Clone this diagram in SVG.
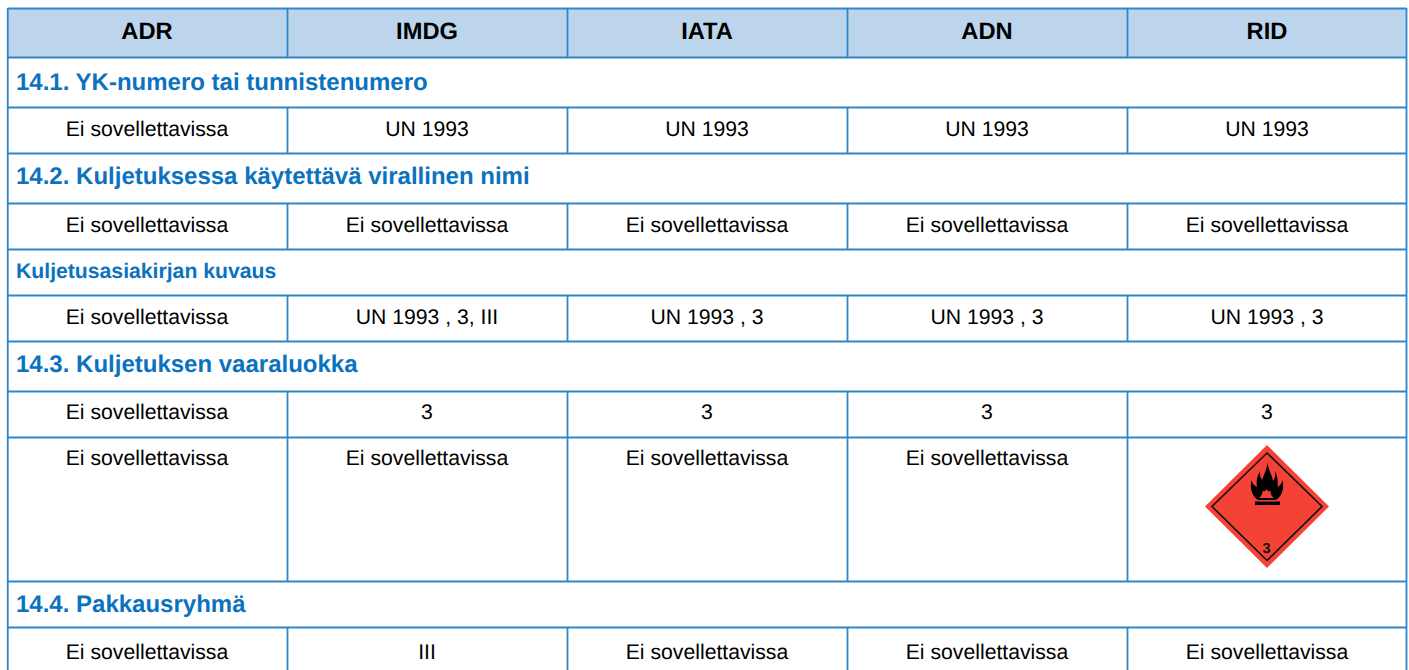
<svg xmlns="http://www.w3.org/2000/svg" width="1409" height="670" viewBox="0 0 1409 670">
<style>
text{font-family:"Liberation Sans",Arial,sans-serif;text-rendering:geometricPrecision}
.h{font-size:23.700px;font-weight:bold;fill:#000;text-anchor:middle}
.c{font-size:21.200px;fill:#000;text-anchor:middle}
.s{font-size:24px;font-weight:bold;fill:#0b72c0}
.t{font-size:21.200px;font-weight:bold;fill:#0b72c0}
.l{stroke:#2f86c8;stroke-width:1.800;fill:none}
</style>
<rect width="1409" height="670" fill="#fff"/>
<rect x="8" y="9" width="1398" height="48" fill="#bdd5ec"/>
<g id="grid" class="l">
<path d="M7.750 8.500H1406.500M7.750 57.500H1406.500M7.750 107.500H1406.500M7.750 153.500H1406.500M7.750 203.500H1406.500M7.750 249.500H1406.500M7.750 295.500H1406.500M7.750 341.500H1406.500M7.750 391.500H1406.500M7.750 437.500H1406.500M7.750 581.500H1406.500M7.750 627.500H1406.500"/>
<path d="M7.750 8V670M1406.500 8V670"/>
<path d="M287.500 8V57.500M567.500 8V57.500M847.500 8V57.500M1127.500 8V57.500"/>
<path d="M287.500 107.500V153.500M567.500 107.500V153.500M847.500 107.500V153.500M1127.500 107.500V153.500"/>
<path d="M287.500 203.500V249.500M567.500 203.500V249.500M847.500 203.500V249.500M1127.500 203.500V249.500"/>
<path d="M287.500 295.500V341.500M567.500 295.500V341.500M847.500 295.500V341.500M1127.500 295.500V341.500"/>
<path d="M287.500 391.500V581.500M567.500 391.500V581.500M847.500 391.500V581.500M1127.500 391.500V581.500"/>
<path d="M287.500 627.500V670M567.500 627.500V670M847.500 627.500V670M1127.500 627.500V670"/>
</g>
<g id="header">
<text class="h" x="147" y="39">ADR</text><text class="h" x="427" y="39">IMDG</text><text class="h" x="707" y="39">IATA</text><text class="h" x="987" y="39">ADN</text><text class="h" x="1267" y="39">RID</text>
</g>
<g id="section-14-1"><text class="s" x="16" y="90">14.1. YK-numero tai tunnistenumero</text></g>
<g id="row-1"><text class="c" x="147" y="136">Ei sovellettavissa</text><text class="c" x="427" y="136">UN 1993</text><text class="c" x="707" y="136">UN 1993</text><text class="c" x="987" y="136">UN 1993</text><text class="c" x="1267" y="136">UN 1993</text></g>
<g id="section-14-2"><text class="s" x="16" y="184">14.2. Kuljetuksessa käytettävä virallinen nimi</text></g>
<g id="row-2"><text class="c" x="147" y="232">Ei sovellettavissa</text><text class="c" x="427" y="232">Ei sovellettavissa</text><text class="c" x="707" y="232">Ei sovellettavissa</text><text class="c" x="987" y="232">Ei sovellettavissa</text><text class="c" x="1267" y="232">Ei sovellettavissa</text></g>
<g id="section-doc"><text class="t" x="16" y="278">Kuljetusasiakirjan kuvaus</text></g>
<g id="row-3"><text class="c" x="147" y="324">Ei sovellettavissa</text><text class="c" x="427" y="324">UN 1993 , 3, III</text><text class="c" x="707" y="324">UN 1993 , 3</text><text class="c" x="987" y="324">UN 1993 , 3</text><text class="c" x="1267" y="324">UN 1993 , 3</text></g>
<g id="section-14-3"><text class="s" x="16" y="372">14.3. Kuljetuksen vaaraluokka</text></g>
<g id="row-4"><text class="c" x="147" y="419">Ei sovellettavissa</text><text class="c" x="427" y="419">3</text><text class="c" x="707" y="419">3</text><text class="c" x="987" y="419">3</text><text class="c" x="1267" y="419">3</text></g>
<g id="row-5"><text class="c" x="147" y="465">Ei sovellettavissa</text><text class="c" x="427" y="465">Ei sovellettavissa</text><text class="c" x="707" y="465">Ei sovellettavissa</text><text class="c" x="987" y="465">Ei sovellettavissa</text></g>
<g id="hazard-label">
<polygon points="1267,445 1329,506.500 1267,568 1205,506.500" fill="#f44336"/>
<polygon points="1267,453 1322,506.500 1267,560.500 1212,506.500" fill="none" stroke="#111" stroke-width="1.600"/>
<path d="M1267.500 462C1268 470 1272 474 1273 481C1275 479 1275.500 476 1275 471C1278 477 1278 483 1277.500 487C1279.500 486 1281.500 484 1282.500 480C1284.500 488 1282 496 1276 500H1258C1252 496 1249.500 488 1251.500 480C1252.500 484 1255 486 1257 487C1256 482 1257 476 1260 471C1260 475 1260 477 1262 480C1264 474 1267 470 1267.500 462Z" fill="#000"/>
<path d="M1266.500 489C1267.500 491.500 1269 492 1270.500 490.500C1270.500 493 1270.500 495 1274 498H1259C1262.500 495 1262.500 493 1262.500 490.500C1264 492 1265.500 491.500 1266.500 489Z" fill="#f44336"/>
<rect x="1255" y="501.500" width="25" height="3.500" fill="#000"/>
<text x="1266.500" y="552.500" font-size="14.500" font-weight="bold" text-anchor="middle" fill="#111">3</text>
</g>
<g id="section-14-4"><text class="s" x="16" y="612">14.4. Pakkausryhmä</text></g>
<g id="row-6"><text class="c" x="147" y="659">Ei sovellettavissa</text><text class="c" x="427" y="659">III</text><text class="c" x="707" y="659">Ei sovellettavissa</text><text class="c" x="987" y="659">Ei sovellettavissa</text><text class="c" x="1267" y="659">Ei sovellettavissa</text></g>
</svg>
